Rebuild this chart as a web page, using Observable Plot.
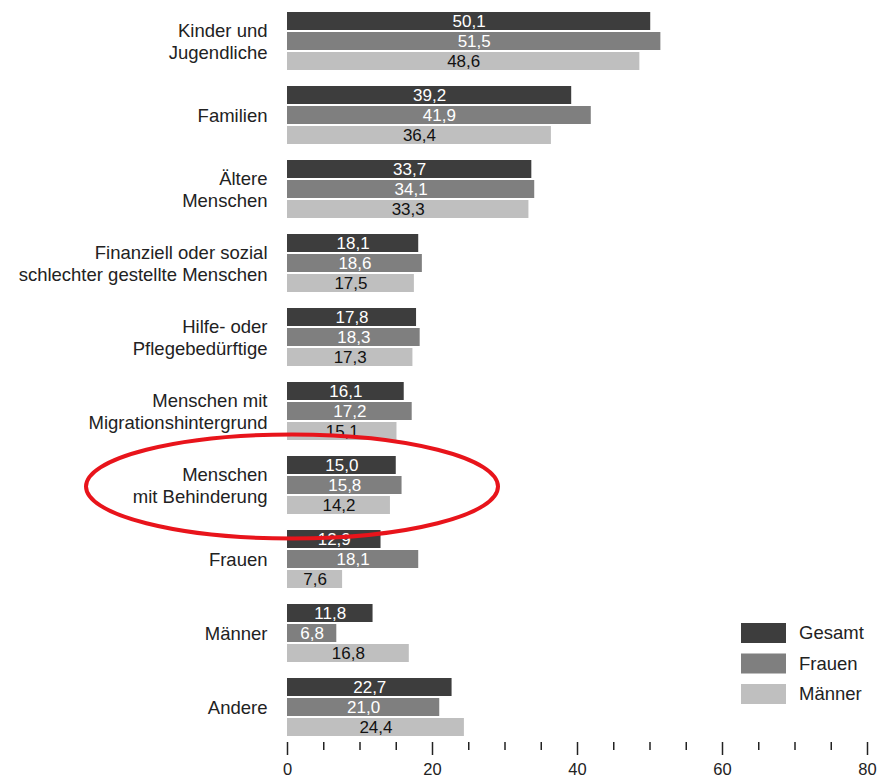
<!DOCTYPE html>
<html><head><meta charset="utf-8">
<script src="https://cdn.jsdelivr.net/npm/d3@7"></script>
<script src="https://cdn.jsdelivr.net/npm/@observablehq/plot@0.6"></script>
<style>body{margin:0;background:#fff;}</style>
</head><body><div id="chart"></div>
<script>
const categories = ["Kinder und\nJugendliche","Familien","Ältere\nMenschen","Finanziell oder sozial\nschlechter gestellte Menschen","Hilfe- oder\nPflegebedürftige","Menschen mit\nMigrationshintergrund","Menschen\nmit Behinderung","Frauen","Männer","Andere"];
const series = ["Gesamt","Frauen","Männer"];
const gesamt = [50.1,39.2,33.7,18.1,17.8,16.1,15.0,12.9,11.8,22.7];
const frauen = [51.5,41.9,34.1,18.6,18.3,17.2,15.8,18.1,6.8,21.0];
const maenner = [48.6,36.4,33.3,17.5,17.3,15.1,14.2,7.6,16.8,24.4];
const colors = ["#3d3d3d","#7f7f7f","#bfbfbf"];
const majorTicks = [0,20,40,60,80];
const minorTicks = [5,10,15,25,30,35,45,50,55,65,70,75];
const highlighted = "Menschen\nmit Behinderung";

const values = [gesamt, frauen, maenner];
const data = [];
categories.forEach((c, i) => series.forEach((s, j) => data.push({category: c, series: s, value: values[j][i]})));
const fmt = v => v.toFixed(1).replace(".", ",");
const font = "'Liberation Sans', Arial, sans-serif";

const plot = Plot.plot({
  width: 879, height: 782,
  marginLeft: 287, marginRight: 12, marginTop: 10, marginBottom: 43,
  x: {domain: [0, 80], axis: null},
  fy: {domain: categories, paddingInner: 0.18, paddingOuter: 0, label: null, axis: null},
  y: {domain: series, paddingInner: 0.09, paddingOuter: 0, axis: null},
  color: {domain: series, range: colors},
  style: {fontFamily: font, fontSize: "16px", color: "#222", background: "#fff"},
  marks: [
    Plot.barX(data, {fy: "category", y: "series", x: "value", fill: "series"}),
    Plot.text(data.filter(d => d.series !== "Männer"), {fy: "category", y: "series", x: d => d.value / 2, text: d => fmt(d.value), fill: "#fff", fontSize: 17}),
    Plot.text(data.filter(d => d.series === "Männer"), {fy: "category", y: "series", x: d => d.value / 2, text: d => fmt(d.value), fill: "#111", fontSize: 17}),
    Plot.axisFy({anchor: "left", tickSize: 0, tickPadding: 20, lineHeight: 1.19, fontSize: 18.5, label: null, fill: "#222", dy: -1}),
    Plot.axisX({ticks: majorTicks, tickSize: 13, tickPadding: 8, dy: 4, fontSize: 16.5, label: null, stroke: "#222", strokeWidth: 1.5}),
    Plot.axisX({ticks: minorTicks, tickSize: 8, tickFormat: () => "", dy: 4, label: null, stroke: "#222", strokeWidth: 1.5})
  ]
});

const svg = d3.select(plot);
// legend
const lg = svg.append("g").attr("font-family", font).attr("font-size", 18.5).attr("text-anchor", "start");
series.forEach((s, i) => {
  lg.append("rect").attr("x", 741).attr("y", 623 + i * 30.5).attr("width", 45).attr("height", 20).attr("fill", colors[i]);
  lg.append("text").attr("x", 799).attr("y", 633 + i * 30.5).attr("dy", "0.35em").attr("fill", "#222").text(s);
});
// red highlight ellipse around the chosen category
const fy = plot.scale("fy");
const xs = plot.scale("x");
const cy = fy.apply(highlighted) + fy.bandwidth / 2;
svg.append("ellipse")
  .attr("cx", xs.apply(0) + 5).attr("cy", cy + 1)
  .attr("rx", 206).attr("ry", 52)
  .attr("fill", "none").attr("stroke", "#e8141b").attr("stroke-width", 4);

document.getElementById("chart").append(plot);
</script>
</body></html>
